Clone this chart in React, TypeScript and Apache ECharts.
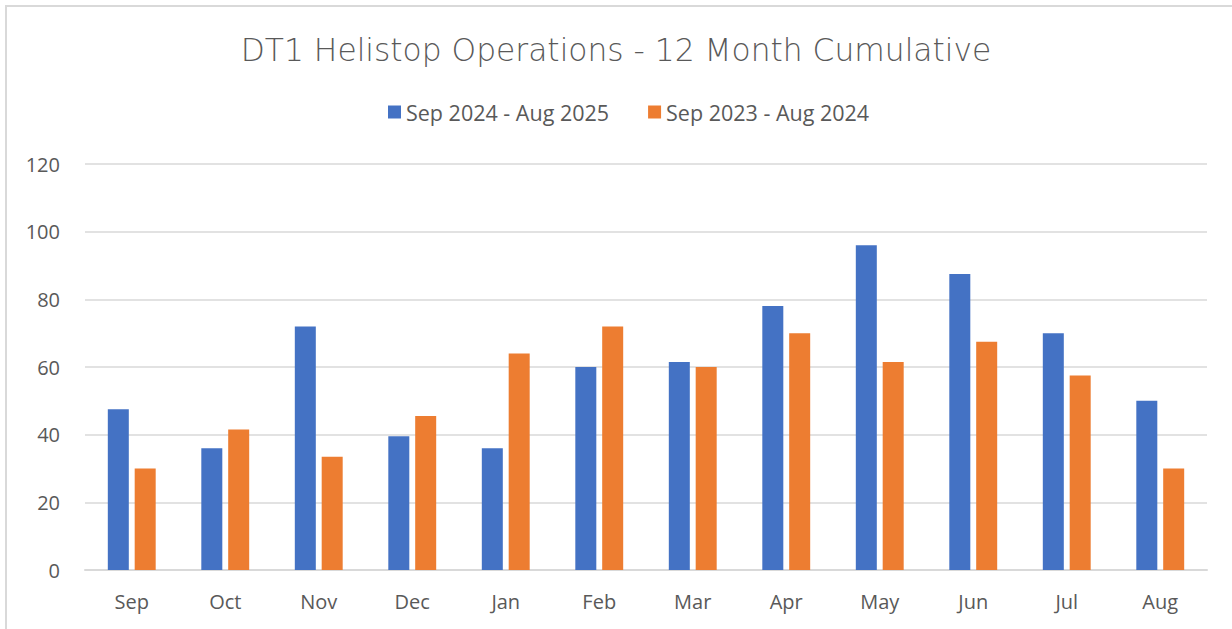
import React, { useEffect, useRef } from "react";
import * as echarts from "echarts";

const months = ["Sep", "Oct", "Nov", "Dec", "Jan", "Feb", "Mar", "Apr", "May", "Jun", "Jul", "Aug"];
const current = [47.5, 36, 72, 39.5, 36, 60, 61.5, 78, 96, 87.5, 70, 50];
const previous = [30, 41.5, 33.5, 45.5, 64, 72, 60, 70, 61.5, 67.5, 57.5, 30];
const seriesNames = ["Sep 2024 - Aug 2025", "Sep 2023 - Aug 2024"];
const titleText = "DT1 Helistop Operations - 12 Month Cumulative";

export default function App() {
  const ref = useRef<HTMLDivElement>(null);
  useEffect(() => {
    document.body.style.margin = "0";
    const chart = echarts.init(ref.current!, undefined, { renderer: "svg" });
    const font = "'Open Sans', sans-serif";
    chart.setOption({
      animation: false,
      backgroundColor: "#ffffff",
      title: {
        text: titleText,
        left: "center",
        top: 29,
        textStyle: { fontFamily: "'DejaVu Sans', sans-serif", fontWeight: 300, fontSize: 31.3, color: "#595959" },
      },
      legend: {
        top: 96,
        left: 383,
        icon: "rect",
        itemWidth: 13,
        itemHeight: 13,
        itemGap: 39,
        textStyle: { fontFamily: font, fontSize: 21.5, color: "#595959" },
        data: seriesNames,
      },
      graphic: [
        {
          type: "rect",
          shape: { x: 6, y: 6, width: 1240, height: 640 },
          style: { fill: "none", stroke: "#d9d9d9", lineWidth: 2 },
          silent: true,
        },
      ],
      grid: { left: 85, right: 25, top: 164, bottom: 59, containLabel: false },
      xAxis: {
        type: "category",
        data: months,
        axisLine: { lineStyle: { color: "#d9d9d9", width: 2 } },
        axisTick: { show: false },
        axisLabel: { fontFamily: font, fontSize: 20, color: "#595959", margin: 21 },
      },
      yAxis: {
        type: "value",
        min: 0,
        max: 120,
        interval: 20,
        axisLine: { show: false },
        axisTick: { show: false },
        splitLine: { lineStyle: { color: "#d9d9d9", width: 1.5 } },
        axisLabel: { fontFamily: font, fontSize: 20, color: "#595959", margin: 25 },
      },
      series: [
        {
          name: seriesNames[0],
          type: "bar",
          data: current,
          barWidth: 21,
          barGap: "28%",
          itemStyle: { color: "#4472c4" },
        },
        {
          name: seriesNames[1],
          type: "bar",
          data: previous,
          barWidth: 21,
          barGap: "28%",
          itemStyle: { color: "#ed7d31" },
        },
      ],
    });
    return () => chart.dispose();
  }, []);
  return <div ref={ref} style={{ width: 1232, height: 629 }} />;
}
